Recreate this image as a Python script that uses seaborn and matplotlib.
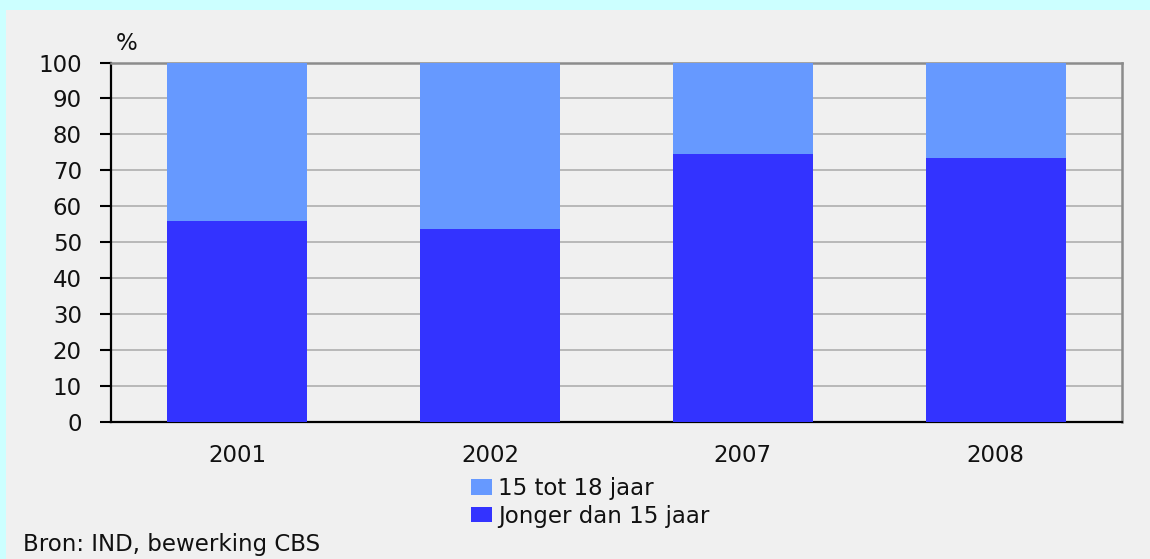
import pandas as pd
import seaborn as sns
import matplotlib.pyplot as plt
from matplotlib.patches import Rectangle, Patch

# data
jaren = ["2001", "2002", "2007", "2008"]
jonger_dan_15 = [56.0, 53.8, 74.5, 73.3]
tot_15_18 = [44.0, 46.2, 25.5, 26.7]

df = pd.DataFrame({"Jaar": jaren, "Jonger": jonger_dan_15, "Ouder": tot_15_18})
df["Totaal"] = df["Jonger"] + df["Ouder"]

sns.set_style("white")
plt.rcParams["font.family"] = ["DejaVu Sans"]
plt.rcParams["text.color"] = "#111111"
fs = 16.5

licht = "#6699ff"
donker = "#3333ff"

fig = plt.figure(figsize=(11.5, 5.59), dpi=100)
fig.patch.set_facecolor("#f0f0f0")
# cyan border strips (top and left)
fig.patches.append(Rectangle((0, 1 - 10 / 559), 1, 10 / 559, transform=fig.transFigure,
                             facecolor="#ccffff", edgecolor="none", zorder=0))
fig.patches.append(Rectangle((0, 0), 6 / 1150, 1, transform=fig.transFigure,
                             facecolor="#ccffff", edgecolor="none", zorder=0))

ax = fig.add_axes([111 / 1150, 137 / 559, 1011 / 1150, 359.5 / 559])
ax.set_facecolor("#f0f0f0")

# stacked bars: total first, then the lower part on top
sns.barplot(data=df, x="Jaar", y="Totaal", color=licht, width=0.554,
            linewidth=0, saturation=1, ax=ax, zorder=3)
sns.barplot(data=df, x="Jaar", y="Jonger", color=donker, width=0.554,
            linewidth=0, saturation=1, ax=ax, zorder=4)

ax.set_xlim(-0.5, 3.5)
ax.set_ylim(0, 100)
ax.set_yticks(range(0, 101, 10))
ax.yaxis.grid(True, color="#b4b4b4", linewidth=1.3, zorder=1)
ax.set_axisbelow(True)

ax.set_xlabel("")
ax.set_ylabel("")
ax.tick_params(axis="y", length=8, width=1.5, color="black", pad=13, labelsize=fs,
               left=True, labelcolor="#111111")
ax.tick_params(axis="x", length=0, pad=16, labelsize=fs, labelcolor="#111111")

for s in ["left", "bottom"]:
    ax.spines[s].set_color("black")
    ax.spines[s].set_linewidth(1.6)
for s in ["top", "right"]:
    ax.spines[s].set_visible(True)
    ax.spines[s].set_color("#8c8c8c")
    ax.spines[s].set_linewidth(1.8)

fig.text(127 / 1150, 1 - 43 / 559, "%", fontsize=fs, ha="center", va="center")

handles = [Patch(facecolor=licht, edgecolor="none", label="15 tot 18 jaar"),
           Patch(facecolor=donker, edgecolor="none", label="Jonger dan 15 jaar")]
fig.legend(handles=handles, loc="upper left", bbox_to_anchor=(471 / 1150, 1 - 477 / 559),
           frameon=False, fontsize=fs, borderpad=0, handlelength=0.9, handleheight=0.65,
           handletextpad=0.3, labelspacing=0.2, borderaxespad=0)

fig.text(23 / 1150, 1 - 545 / 559, "Bron: IND, bewerking CBS", fontsize=fs, ha="left", va="center")

fig.savefig("out.png", dpi=100, facecolor=fig.get_facecolor())
